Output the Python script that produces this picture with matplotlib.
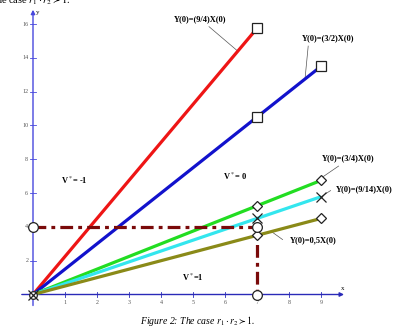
import matplotlib
matplotlib.use("Agg")
import matplotlib.pyplot as plt
import numpy as np

plt.rcParams["font.family"] = ["Liberation Serif", "DejaVu Serif"]
plt.rcParams["mathtext.fontset"] = "stix"

# slopes Y(0) = k X(0) and where each line stops
slopes = [9 / 4, 3 / 2, 3 / 4, 9 / 14, 0.5]
x_end = [7, 9, 9, 9, 9]
line_colors = ["#ee1515", "#1212cc", "#22dd22", "#33e6ee", "#8a8a18"]
line_labels = ["Y(0)=(9/4)X(0)", "Y(0)=(3/2)X(0)", "Y(0)=(3/4)X(0)",
               "Y(0)=(9/14)X(0)", "Y(0)=0,5X(0)"]
end_markers = ["s", "s", "D", "x", "D"]
mid_markers = [None, "s", "D", "x", "D"]

# dash-dot guide through (7, 4)
guide_x = [0, 7, 7]
guide_y = [4, 4, 0]

x_ticks = [1, 2, 3, 4, 5, 6, 7, 8, 9]
y_ticks = [2, 4, 6, 8, 10, 12, 14, 16]

fig = plt.figure(figsize=(3.93, 3.29), dpi=100)
ax = fig.add_axes([0, 0, 1, 1])
ax.set_xlim(-33 / 32, 360 / 32)
ax.set_ylim(-34.5 / 16.9, 294.5 / 16.9)
ax.axis("off")

axis_col = "#2a2ab8"
ax.annotate("", xy=(9.72, 0), xytext=(-0.35, 0),
            arrowprops=dict(arrowstyle="-|>", color=axis_col, lw=1.0,
                            mutation_scale=6, shrinkA=0, shrinkB=0))
ax.annotate("", xy=(0, 16.85), xytext=(0, -0.65),
            arrowprops=dict(arrowstyle="-|>", color="#4848dd", lw=1.0,
                            mutation_scale=6, shrinkA=0, shrinkB=0))
for t in x_ticks:
    ax.plot([t, t], [-0.12, 0.12], color=axis_col, lw=0.6)
    ax.text(t, -0.45, str(t), ha="center", va="center", fontsize=4.3, color="#555555")
for t in y_ticks:
    ax.plot([-0.1, 0.1], [t, t], color="#4848dd", lw=0.6)
    ax.text(-0.15, t, str(t), ha="right", va="center", fontsize=4.3, color="#555555")
ax.text(9.68, 0.35, "x", fontsize=5, ha="center", va="center")
ax.text(0.15, 16.7, "y", fontsize=5, ha="center", va="center")

# the five lines
for k, xe, c in zip(slopes, x_end, line_colors):
    ax.plot([0, xe], [0, k * xe], color=c, lw=2.3, solid_capstyle="butt", zorder=3)

# guide
ax.plot(guide_x, guide_y, color="#7a0a0a", lw=2.3, dashes=(4, 1.6, 1.2, 1.6), zorder=4)


def mark(x, y, m):
    if m == "x":
        ax.plot(x, y, marker="x", ms=7, mew=0.9, color="#222222", zorder=6)
    else:
        ax.plot(x, y, marker=m, ms=7 if m == "s" else 5.5, mfc="white",
                mec="#222222", mew=0.9, zorder=6)


for k, xe, m in zip(slopes, x_end, end_markers):
    mark(xe, k * xe, m)
for k, m in zip(slopes, mid_markers):
    if m is not None:
        mark(7, k * 7, m)
for gx, gy in [(0, 4), (7, 4), (7, 0)]:
    ax.plot(gx, gy, marker="o", ms=7, mfc="white", mec="#222222", mew=0.9, zorder=7)
ax.plot(0, 0, marker="o", ms=5.5, mfc="white", mec="#222222", mew=0.9, zorder=7)
ax.plot(0, 0, marker="x", ms=7, mew=0.9, color="#222222", zorder=8)

# labels with leader lines
lab_pos = [(5.22, 16.3), (9.22, 15.18), (9.85, 8.08), (10.35, 6.24), (8.75, 3.22)]
lead_from = [(5.5, 15.85), (8.6, 14.7), (9.55, 7.6), (9.3, 6.15), (7.8, 3.25)]
lead_x = [6.4, 8.5, 8.75, 9.0, 7.45]
for lab, (tx, ty), (fx, fy), lx, k in zip(line_labels, lab_pos, lead_from, lead_x, slopes):
    ax.plot([fx, lx], [fy, k * lx], color="#555555", lw=0.5, zorder=2)
    ax.text(tx, ty, lab, fontsize=6, fontweight="bold", ha="center", va="center")

ax.text(1.3, 6.77, r"V$^*$= -1", fontsize=6, fontweight="bold", ha="center", va="center")
ax.text(6.3, 7.0, r"V$^*$= 0", fontsize=6, fontweight="bold", ha="center", va="center")
ax.text(5.0, 1.04, r"V$^*$=1", fontsize=6, fontweight="bold", ha="center", va="center")

fig.text(198 / 393, 1 - 320.5 / 329,
         r"Figure 2: The case $r_1 \cdot r_2 \succ 1$.",
         fontsize=7, style="italic", ha="center", va="center")
fig.text(-0.01, 1.0, r"he case $r_1 \cdot r_2 \succ 1$.",
         fontsize=7.5, ha="left", va="center")

fig.savefig("out.png", dpi=100)
